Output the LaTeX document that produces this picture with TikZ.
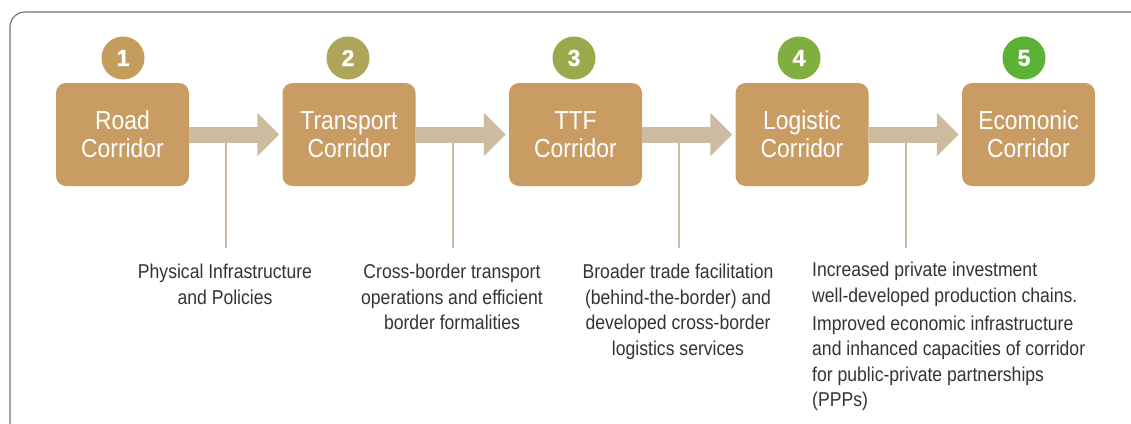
\documentclass[tikz,border=0pt]{standalone}
\usepackage{fontspec}
\setmainfont{Liberation Sans}[FakeStretch=0.88]
\newfontfamily\numfont{Liberation Sans Bold}[FakeBold=1.2]
\usetikzlibrary{arrows.meta}
\definecolor{boxc}{HTML}{C99C64}
\definecolor{arrc}{HTML}{CDBB9F}
\definecolor{framec}{HTML}{6E6E6E}
\definecolor{txtc}{HTML}{333333}
\definecolor{cA}{HTML}{C49C5E}
\definecolor{cB}{HTML}{ADA55A}
\definecolor{cC}{HTML}{98AA4C}
\definecolor{cD}{HTML}{80AF3E}
\definecolor{cE}{HTML}{5CB234}
\tikzset{
  corr/.style={fill=boxc, rounded corners=10pt, minimum width=133pt, minimum height=103pt,
    text=white, align=center, inner sep=0pt, font=\fontsize{26}{28}\selectfont},
  num/.style={circle, minimum size=43pt, inner sep=0pt, text=white,
    font=\numfont\fontsize{23}{23}\selectfont},
  flow/.style={arrc, line width=16pt, -{Triangle[length=22pt,width=42pt]}},
  tick/.style={arrc, line width=1.8pt},
  desc/.style={text=txtc, anchor=north, inner sep=0pt, font=\fontsize{20}{25.5}\selectfont}
}
\begin{document}
\begin{tikzpicture}[x=1pt,y=-1pt]
\useasboundingbox (0,0) rectangle (1131,423);
\begin{scope}
\clip (0,0) rectangle (1131,423);
\draw[framec, line width=1.1pt, rounded corners=15pt] (10,12) rectangle (1150,440);
\end{scope}
% boxes
\node[corr] (b1) at (122.5,134.5) {Road\\Corridor};
\node[corr] (b2) at (349,134.5) {Transport\\Corridor};
\node[corr] (b3) at (575.5,134.5) {TTF\\Corridor};
\node[corr] (b4) at (802,134.5) {Logistic\\Corridor};
\node[corr] (b5) at (1028.5,134.5) {Ecomonic\\Corridor};
% numbers
\node[num, fill=cA] (n1) at (123,58) {1};
\node[num, fill=cB] (n2) at (348,58) {2};
\node[num, fill=cC] (n3) at (574,58) {3};
\node[num, fill=cD] (n4) at (799,58) {4};
\node[num, fill=cE] (n5) at (1024,58) {5};
% arrows
\foreach \a/\b in {b1/b2,b2/b3,b3/b4,b4/b5}{
  \draw[flow] (\a.east) -- ([xshift=-3pt]\b.west);
}
% descriptions
\node[desc, align=center] (d1) at (225,264) {Physical Infrastructure\\and Policies};
\node[desc, align=center] (d2) at (452,264) {Cross-border transport\\operations and efficient\\border formalities};
\node[desc, align=center] (d3) at (678,264) {Broader trade facilitation\\(behind-the-border) and\\developed cross-border\\logistics services};
\node[desc, align=left, anchor=north west] (d4) at (812,262) {Increased private investment\\well-developed production chains.\\[2.5pt]Improved economic infrastructure\\and inhanced capacities of corridor\\for public-private partnerships\\(PPPs)};
% ticks
\foreach \a/\c in {b1/t1,b2/t2,b3/t3,b4/t4}{
  \coordinate (\c) at ([xshift=37pt,yshift=-113.5pt]\a.east);
  \draw[tick] ([xshift=37pt,yshift=-8pt]\a.east) -- (\c);
}
\end{tikzpicture}
\end{document}
